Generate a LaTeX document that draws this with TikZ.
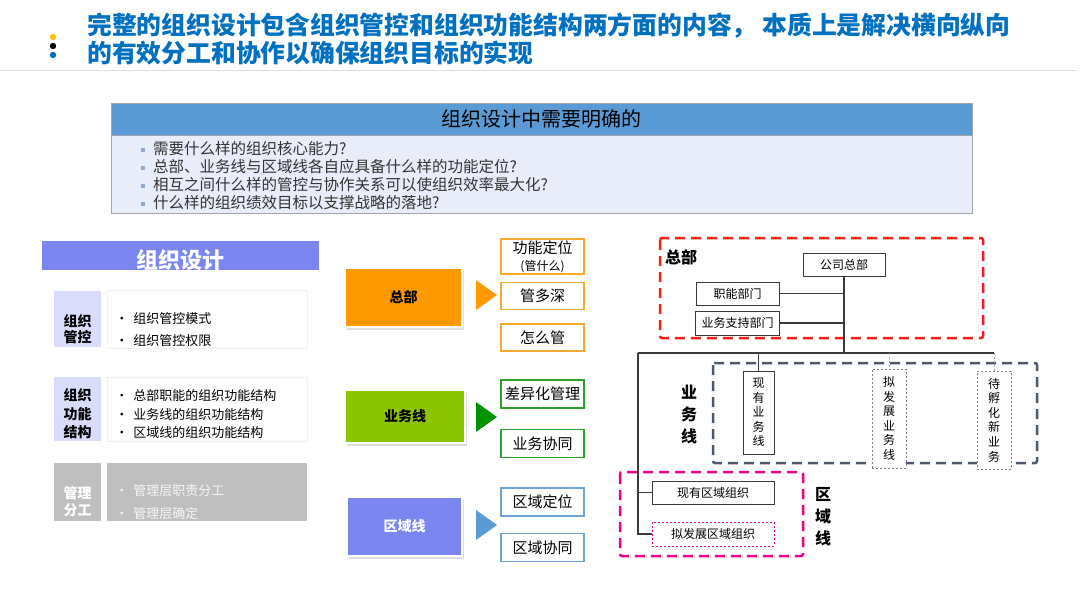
\documentclass[tikz,border=0pt]{standalone}
\usepackage{fontspec}
\setmainfont{Noto Sans CJK SC}
\usetikzlibrary{positioning,shadows,calc}

\definecolor{titleblue}{HTML}{0070C0}
\definecolor{hdrblue}{HTML}{5B9BD5}
\definecolor{qbg}{HTML}{E9EDFA}
\definecolor{qbul}{HTML}{8FAAD0}
\definecolor{peri}{HTML}{7B86F0}
\definecolor{lav}{HTML}{DADDFA}
\definecolor{gry}{HTML}{BFBFBF}
\definecolor{hqorange}{HTML}{FF9900}
\definecolor{hqline}{HTML}{F7A833}
\definecolor{bizgreen}{HTML}{8CC500}
\definecolor{bizdark}{HTML}{009300}
\definecolor{bizline}{HTML}{2EA02E}
\definecolor{regline}{HTML}{6FA3D6}
\definecolor{slate}{HTML}{4D586C}
\definecolor{orgdark}{HTML}{3A3A3A}
\definecolor{dotyellow}{HTML}{FFC000}

\newcommand\fsz[2]{\fontsize{#1}{#2}\selectfont}
\newcommand\qb{\textcolor{qbul}{\rule[3pt]{4pt}{4pt}}\hspace{8pt}}
\newcommand\ib{\makebox[18pt][l]{\textbullet}}

\begin{document}
\begin{tikzpicture}[
    x=1pt, y=-1pt,
    ttl/.style={anchor=west, align=left, inner sep=0pt, text=titleblue, font=\fsz{24.8}{28}\bfseries},
    qhead/.style={minimum width=861pt, minimum height=32pt, fill=hdrblue, draw=gray!70, font=\fsz{20}{24}, inner sep=0pt},
    qbody/.style={minimum width=861pt, minimum height=78pt, fill=qbg, draw=gray!70},
    qtext/.style={anchor=west, align=left, inner sep=0pt, font=\fsz{15.5}{18}, text=black!80},
    banner/.style={minimum width=277pt, minimum height=29pt, fill=peri, inner sep=0pt},
    lblbox/.style={minimum width=47pt, fill=lav, inner sep=0pt},
    lbltext/.style={align=center, inner sep=0pt},
    itembox/.style={minimum width=200pt, fill=white, draw=gray!12, inner sep=0pt},
    itemtext/.style={anchor=west, align=left, inner sep=0pt},
    mainbox/.style={draw=white, line width=1.5pt, inner sep=0pt, font=\fsz{14}{16}\bfseries, drop shadow={shadow xshift=1.5pt, shadow yshift=-2.5pt, opacity=0.25}},
    subbox/.style={minimum width=83pt, line width=1.5pt, fill=white, inner sep=0pt, font=\fsz{15}{17}},
    orgbox/.style={draw=orgdark, fill=white, line width=1pt, inner sep=0pt, font=\fsz{12}{14}},
    orgdbox/.style={draw=gray, fill=white, line width=0.8pt, dash pattern=on 2pt off 2pt, inner sep=0pt, font=\fsz{12}{14.6}},
    orgtitle/.style={align=center, inner sep=0pt, font=\fsz{16}{22}\bfseries},
    orgline/.style={draw=orgdark, line width=1.2pt},
    orgdash/.style={draw=gray!70, line width=0.8pt, dash pattern=on 2pt off 2pt},
    grpframe/.style={line width=2.5pt, dash pattern=on 10pt off 6pt, rounded corners=2pt}
]
\useasboundingbox (0,0) rectangle (1080,608);
\fill[white] (0,0) rectangle (1080,608);

% Title
\fill[dotyellow] (53,37) circle[radius=3.2pt];
\fill[black] (53,46) circle[radius=3.2pt];
\fill[titleblue] (53,55) circle[radius=3.2pt];
\node[ttl] (ttl) at (87,39) {完整的组织设计包含组织管控和组织功能结构两方面的内容， 本质上是解决横向纵向\\的有效分工和协作以确保组织目标的实现};
\draw[gray!25, line width=1pt] (0,70) -- (1077,70);

% Questions
\node[qhead] (qh) at (541.5,119) {组织设计中需要明确的};
\node[qbody, below=0pt of qh] (qb) {};
\node[qtext] (qt) at (141,176) {\qb 需要什么样的组织核心能力?\\\qb 总部、业务线与区域线各自应具备什么样的功能定位?\\\qb 相互之间什么样的管控与协作关系可以使组织效率最大化?\\\qb 什么样的组织绩效目标以支撑战略的落地?};

% Left column
\node[banner] (od) at (180.5,255.5) {};
\node[text=white, inner sep=0pt, font=\fsz{22}{24}\bfseries] at ([yshift=-5pt]od.center) {组织设计};

\node[lblbox, minimum height=56pt] (g1) at (77.5,319) {};
\node[lbltext, font=\fsz{14}{16.5}\bfseries] at ([yshift=-10pt]g1.center) {组织\\管控};
\node[itembox, minimum height=58pt, right=6pt of g1] (c1) {};
\node[itemtext, font=\fsz{13}{22}] at ([xshift=8pt,yshift=-11pt]c1.west) {\ib 组织管控模式\\\ib 组织管控权限};

\node[lblbox, minimum height=64pt] (g2) at (77.5,409) {};
\node[lbltext, font=\fsz{14}{18.5}\bfseries] at ([yshift=-5pt]g2.center) {组织\\功能\\结构};
\node[itembox, minimum height=64pt, right=6pt of g2] (c2) {};
\node[itemtext, font=\fsz{13}{18.5}] at ([xshift=8pt,yshift=-5.5pt]c2.west) {\ib 总部职能的组织功能结构\\\ib 业务线的组织功能结构\\\ib 区域线的组织功能结构};

\node[lblbox, fill=gry, minimum height=58pt] (g3) at (77.5,492) {};
\node[lbltext, text=white, font=\fsz{14}{17}\bfseries] at ([yshift=-9.5pt]g3.center) {管理\\分工};
\node[itembox, fill=gry, draw=none, minimum height=58pt, right=6pt of g3] (c3) {};
\node[itemtext, text=white!92!gray, font=\fsz{13}{23}] at ([xshift=8pt,yshift=-10.5pt]c3.west) {\ib 管理层职责分工\\\ib 管理层确定};

% Middle column
\node[mainbox, fill=hqorange, minimum width=117pt, minimum height=59pt] (hq) at (403.5,297.5) {总部};
\node[mainbox, fill=bizgreen, minimum width=120pt, minimum height=53pt] (biz) at (405,416.5) {业务线};
\node[mainbox, fill=peri, text=white, minimum width=115pt, minimum height=59pt] (reg) at (404.5,526.5) {区域线};

\fill[hqorange] (476,280) -- (497,295) -- (476,310) -- cycle;
\fill[bizdark] (476,402) -- (497,417) -- (476,432) -- cycle;
\fill[hdrblue] (476,510) -- (497,525) -- (476,540) -- cycle;

\node[subbox, draw=hqline, minimum height=35pt, align=center] (f1) at (542.5,256.5) {功能定位\\{\fsz{12}{13}(管什么)}};
\node[subbox, draw=hqline, minimum height=27pt, below=7pt of f1] (f2) {管多深};
\node[subbox, draw=hqline, minimum height=27pt, below=13pt of f2] (f3) {怎么管};
\node[subbox, draw=bizline, minimum height=28pt] (b1) at (542.5,394) {差异化管理};
\node[subbox, draw=bizline, minimum height=28pt, below=20pt of b1] (b2) {业务协同};
\node[subbox, draw=regline, minimum height=28pt] (r1) at (542.5,502) {区域定位};
\node[subbox, draw=regline, minimum height=28pt, below=16pt of r1] (r2) {区域协同};

% Org chart
\draw[grpframe, draw=red!90] (660,238) rectangle (983,338);
\draw[grpframe, draw=slate] (713,363) rectangle (1037,463);
\draw[grpframe, draw=magenta] (620,472) rectangle (803,556);

\node[orgtitle] (zbt) at (681,257) {总部};
\node[orgtitle] (ywxt) at (689,415) {业\\务\\线};
\node[orgtitle] (qyxt) at (823,517) {区\\域\\线};

\node[orgbox, minimum width=82pt, minimum height=23pt] (gszb) at (844,264.5) {公司总部};
\node[orgbox, minimum width=83pt, minimum height=23pt] (znbm) at (737.5,293.5) {职能部门};
\node[orgbox, minimum width=84pt, minimum height=24pt, below=5pt of znbm] (ywzc) {业务支持部门};
\node[orgbox, minimum width=31pt, minimum height=83pt, align=center, font=\fsz{12}{14.5}] (xyyw) at (758.5,412.5) {现\\有\\业\\务\\线};
\node[orgdbox, minimum width=34pt, minimum height=99pt, align=center] (nfzyw) at (889,418.5) {拟\\发\\展\\业\\务\\线};
\node[orgdbox, minimum width=34pt, minimum height=98pt, align=center] (dfh) at (994,420) {待\\孵\\化\\新\\业\\务};
\node[orgbox, minimum width=122pt, minimum height=23pt] (xyqy) at (713,492.5) {现有区域组织};
\node[orgdbox, draw=magenta, minimum width=122pt, minimum height=24pt] (nfzqy) at (713,534) {拟发展区域组织};

\coordinate (busL) at (638,353);
\draw[orgline] (gszb.south) -- (gszb.south |- busL);
\draw[orgline] (znbm.east) -- (znbm.east -| gszb.south);
\draw[orgline] (ywzc.east) -- (ywzc.east -| gszb.south);
\draw[orgline] (busL) -- (busL -| dfh.north);
\draw[orgline] (xyyw.north |- busL) -- (xyyw.north);
\draw[orgdash] (nfzyw.north |- busL) -- (nfzyw.north);
\draw[orgdash] (dfh.north |- busL) -- (dfh.north);
\draw[orgline] (busL) |- (nfzqy.west);
\draw[orgline] (busL |- xyqy.west) -- (xyqy.west);

\end{tikzpicture}
\end{document}
